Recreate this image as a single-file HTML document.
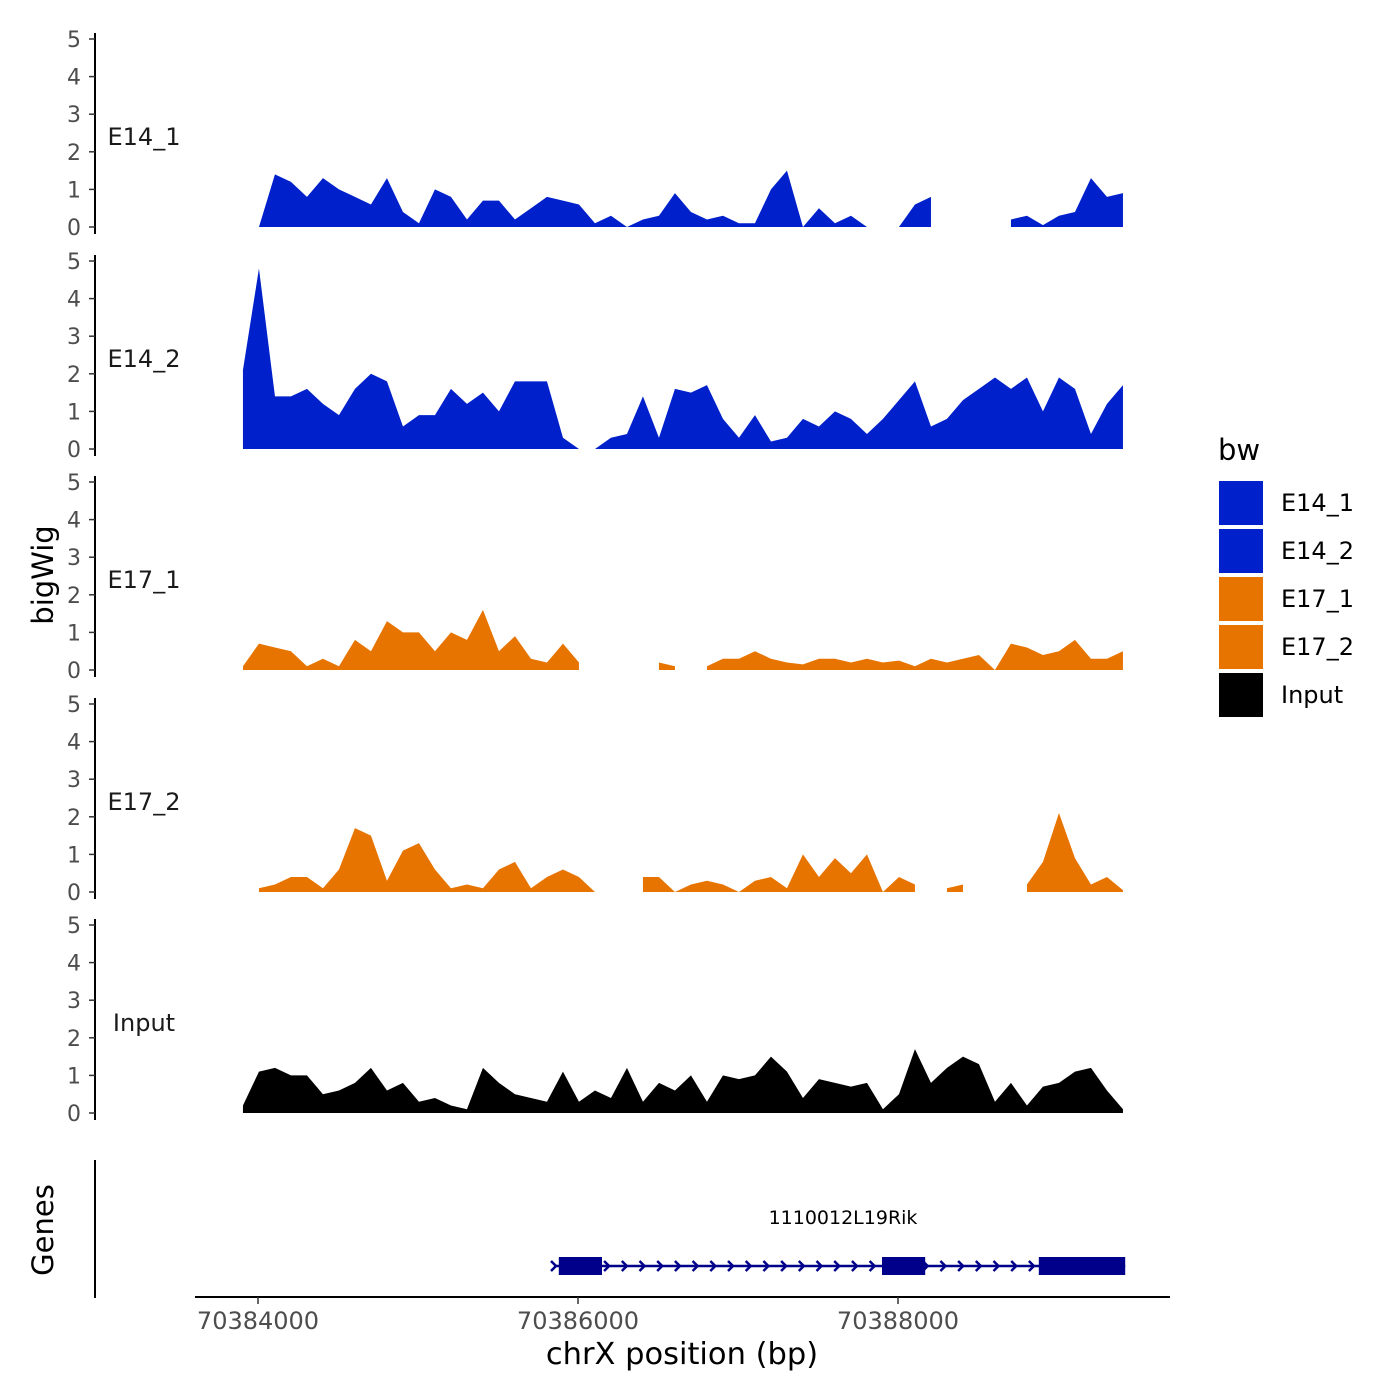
<!DOCTYPE html>
<html><head><meta charset="utf-8"><style>
body{margin:0;background:#fff}
svg{display:block;font-family:"DejaVu Sans","Liberation Sans",sans-serif}
</style></head><body>
<svg id="chart" width="1400" height="1400" viewBox="0 0 1400 1400"></svg>
<script>
// positions in bp, step 100bp starting at 70383906
const positions = Array.from({length:56},(_, i)=>70383906+i*100);
const trackNames = ["E14_1","E14_2","E17_1","E17_2","Input"];
const trackColors = ["#0020cc","#0020cc","#e87400","#e87400","#000000"];
const yTicks = [0,1,2,3,4,5];
const xTicks = [70384000,70386000,70388000];
const e14_1 = [null,0,1.4,1.2,0.8,1.3,1.0,0.8,0.6,1.3,0.4,0.1,1.0,0.8,0.2,0.7,0.7,0.2,0.5,0.8,0.7,0.6,0.1,0.3,0,0.2,0.3,0.9,0.4,0.2,0.3,0.1,0.1,1.0,1.5,0,0.5,0.1,0.3,0,null,0,0.6,0.8,null,null,null,null,0.2,0.3,0.05,0.3,0.4,1.3,0.8,0.9];
const e14_2 = [2.1,4.8,1.4,1.4,1.6,1.2,0.9,1.6,2.0,1.8,0.6,0.9,0.9,1.6,1.2,1.5,1.0,1.8,1.8,1.8,0.3,0,0,0.3,0.4,1.4,0.3,1.6,1.5,1.7,0.8,0.3,0.9,0.2,0.3,0.8,0.6,1.0,0.8,0.4,0.8,1.3,1.8,0.6,0.8,1.3,1.6,1.9,1.6,1.9,1.0,1.9,1.6,0.4,1.2,1.7];
const e17_1 = [0.1,0.7,0.6,0.5,0.1,0.3,0.1,0.8,0.5,1.3,1.0,1.0,0.5,1.0,0.8,1.6,0.5,0.9,0.3,0.2,0.7,0.2,null,null,null,null,0.2,0.1,null,0.1,0.3,0.3,0.5,0.3,0.2,0.15,0.3,0.3,0.2,0.3,0.2,0.25,0.1,0.3,0.2,0.3,0.4,0,0.7,0.6,0.4,0.5,0.8,0.3,0.3,0.5];
const e17_2 = [null,0.1,0.2,0.4,0.4,0.1,0.6,1.7,1.5,0.3,1.1,1.3,0.6,0.1,0.2,0.1,0.6,0.8,0.1,0.4,0.6,0.4,0,null,null,0.4,0.4,0,0.2,0.3,0.2,0,0.3,0.4,0.1,1.0,0.4,0.9,0.5,1.0,0,0.4,0.2,null,0.1,0.2,null,null,null,0.2,0.8,2.1,0.9,0.2,0.4,0.05];
const input = [0.2,1.1,1.2,1.0,1.0,0.5,0.6,0.8,1.2,0.6,0.8,0.3,0.4,0.2,0.1,1.2,0.8,0.5,0.4,0.3,1.1,0.3,0.6,0.4,1.2,0.3,0.8,0.6,1.0,0.3,1.0,0.9,1.0,1.5,1.1,0.4,0.9,0.8,0.7,0.8,0.1,0.5,1.7,0.8,1.2,1.5,1.3,0.3,0.8,0.2,0.7,0.8,1.1,1.2,0.6,0.1];
const seriesValues = [e14_1,e14_2,e17_1,e17_2,input];
const geneExons = [[70385880,70386150],[70387900,70388170],[70388880,70389420]];
const geneSpan = [70385850,70389420];
const geneName = "1110012L19Rik";

const svg=document.getElementById('chart');
const NS='http://www.w3.org/2000/svg';
function mk(tag,attrs,parent,text){const e=document.createElementNS(NS,tag);for(const k in attrs)e.setAttribute(k,attrs[k]);if(text!==undefined)e.textContent=text;(parent||svg).appendChild(e);return e;}
const xs=bp=>258+(bp-70384000)*0.16;
const panelBase=[227,449,670,892,1113];
const ys=(v,p)=>panelBase[p]-v*37.6;

seriesValues.forEach((vals,p)=>{
  const g=mk('g',{});
  
  
  const ax=mk('line',{x1:95,x2:95,y1:ys(5,p)-6,y2:panelBase[p]+7,stroke:'#000','stroke-width':2},g);
  
  yTicks.forEach(t=>{
    const tl=mk('line',{x1:89,x2:95,y1:ys(t,p),y2:ys(t,p),stroke:'#333','stroke-width':1.5},g);
    
    const tx=mk('text',{x:81,y:ys(t,p)+8,'text-anchor':'end','font-size':22,fill:'#4d4d4d'},g,String(t));
    
  });
  const lb=mk('text',{x:144,y:ys(2.4,p)+8,'text-anchor':'middle','font-size':24,fill:'#1a1a1a'},g,trackNames[p]);
  
  let seg=[];
  const flush=()=>{
    if(seg.length>1){
      let d='M'+xs(seg[0][0])+','+panelBase[p];
      seg.forEach(s=>d+='L'+xs(s[0])+','+ys(s[1],p));
      d+='L'+xs(seg[seg.length-1][0])+','+panelBase[p]+'Z';
      const a=mk('path',{d:d,fill:trackColors[p]},g);
      
    }
    seg=[];
  };
  vals.forEach((v,i)=>{if(v===null)flush();else seg.push([positions[i],v]);});
  flush();
});

const yt=mk('text',{x:0,y:0,transform:'translate(53,575) rotate(-90)','text-anchor':'middle','font-size':29,fill:'#000'},svg,'bigWig');

const gt=mk('text',{x:0,y:0,transform:'translate(53,1230) rotate(-90)','text-anchor':'middle','font-size':29,fill:'#000'},svg,'Genes');

const gl=mk('line',{x1:95,x2:95,y1:1160,y2:1298,stroke:'#000','stroke-width':2});


const gg=mk('g',{});

mk('line',{x1:xs(geneSpan[0]),x2:xs(geneSpan[1]),y1:1266,y2:1266,stroke:'#00008b','stroke-width':2.5},gg);
for(let x=xs(geneSpan[0]);x<xs(geneSpan[1]);x+=17.7){
  mk('path',{d:`M${x-3},${1261}L${x+2},${1266}L${x-3},${1271}`,fill:'none',stroke:'#00008b','stroke-width':2.5},gg);
}
geneExons.forEach(e=>{
  const r=mk('rect',{x:xs(e[0]),y:1257,width:xs(e[1])-xs(e[0]),height:18,fill:'#00008b'},gg);
  
});
const gn=mk('text',{x:843,y:1224,'text-anchor':'middle','font-size':19,fill:'#000'},gg,geneName);


const xa=mk('line',{x1:195,x2:1170,y1:1297,y2:1297,stroke:'#000','stroke-width':2});

xTicks.forEach(t=>{
  const tl=mk('line',{x1:xs(t),x2:xs(t),y1:1297,y2:1304,stroke:'#333','stroke-width':1.5});
  
  const tx=mk('text',{x:xs(t),y:1329,'text-anchor':'middle','font-size':24,fill:'#4d4d4d'},svg,String(t));
  
});
const xt=mk('text',{x:682,y:1364,'text-anchor':'middle','font-size':30.5,fill:'#000'},svg,'chrX position (bp)');


const lg=mk('g',{});

const lt=mk('text',{x:1218,y:460,'font-size':29,fill:'#000'},lg,'bw');

trackNames.forEach((n,i)=>{
  const y=481+i*48;
  const r=mk('rect',{x:1219,y:y,width:44,height:44,fill:trackColors[i]},lg);
  
  const t=mk('text',{x:1281,y:y+30,'font-size':24,fill:'#000'},lg,n);
  
});
</script>
</body></html>
